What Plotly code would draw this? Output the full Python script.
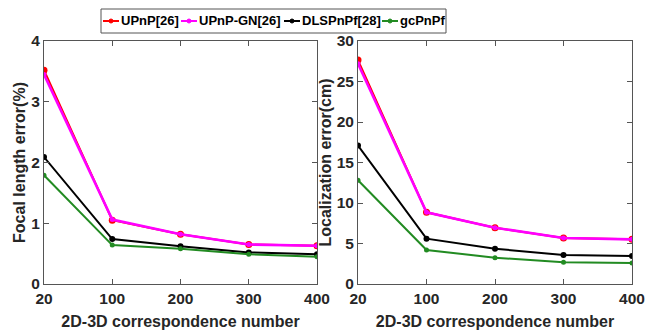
import plotly.graph_objects as go

x_labels = ["20", "100", "200", "300", "400"]
series_names = ["UPnP[26]", "UPnP-GN[26]", "DLSPnPf[28]", "gcPnPf"]

focal_upnp = [3.52, 1.05, 0.82, 0.65, 0.63]
focal_upnp_gn = [3.45, 1.06, 0.82, 0.65, 0.63]
focal_dls = [2.09, 0.74, 0.62, 0.52, 0.49]
focal_gc = [1.79, 0.64, 0.58, 0.49, 0.45]

loc_upnp = [27.65, 8.85, 6.95, 5.68, 5.51]
loc_upnp_gn = [27.2, 8.85, 6.95, 5.68, 5.51]
loc_dls = [17.1, 5.6, 4.36, 3.58, 3.46]
loc_gc = [12.8, 4.2, 3.25, 2.67, 2.6]

colors = ["#ff0000", "#ff00ff", "#000000", "#228b22"]
widths = [2, 2.6, 2, 2]
msizes = [7, 5, 6, 5]

W, H = 646, 332
ML, MR, MT, MB = 44, 14, 41, 48
PW, PH = W - ML - MR, H - MT - MB


def px(x):
    return (x - ML) / PW


def py(y):
    return (H - MB - y) / PH


fig = go.Figure()
left = [focal_upnp, focal_upnp_gn, focal_dls, focal_gc]
right = [loc_upnp, loc_upnp_gn, loc_dls, loc_gc]
for i, name in enumerate(series_names):
    fig.add_trace(go.Scatter(x=x_labels, y=left[i], name=name, mode="lines+markers",
                             line=dict(color=colors[i], width=widths[i]),
                             marker=dict(color=colors[i], size=msizes[i]),
                             xaxis="x", yaxis="y", showlegend=False))
for i, name in enumerate(series_names):
    fig.add_trace(go.Scatter(x=x_labels, y=right[i], name=name, mode="lines+markers",
                             line=dict(color=colors[i], width=widths[i]),
                             marker=dict(color=colors[i], size=msizes[i]),
                             xaxis="x2", yaxis="y2", showlegend=False))

axcol = "#555555"
fam = "Liberation Sans, Arial"
tickfont = dict(family=fam, size=15.5, color="#262626", weight="bold")
titlefont = dict(family=fam, size=16, color="#262626", weight="bold")
common = dict(showline=True, linecolor=axcol, linewidth=1, mirror="ticks", ticks="inside",
              ticklen=5, tickcolor=axcol, showgrid=False, zeroline=False, tickfont=tickfont,
              automargin=False)

# Compact legend (box, line glyphs, dots, labels)
shapes = [dict(type="rect", xref="paper", yref="paper", x0=px(101), x1=px(446), y0=py(33), y1=py(9),
               line=dict(color=axcol, width=1), fillcolor="white", layer="above")]
annotations = []
sym_starts = [103, 181, 284, 382]
ly = 21
for i, name in enumerate(series_names):
    s = sym_starts[i]
    shapes.append(dict(type="line", xref="paper", yref="paper", x0=px(s), x1=px(s + 16),
                       y0=py(ly), y1=py(ly), line=dict(color=colors[i], width=2), layer="above"))
    shapes.append(dict(type="circle", xref="paper", yref="paper", x0=px(s + 6), x1=px(s + 10),
                       y0=py(ly + 2), y1=py(ly - 2), line=dict(color=colors[i], width=1),
                       fillcolor=colors[i], layer="above"))
    annotations.append(dict(text=name, xref="paper", yref="paper", x=px(s + 17), y=py(ly),
                            xanchor="left", yanchor="middle", showarrow=False, borderpad=0,
                            font=dict(family=fam, size=13, color="#000000", weight="bold")))

fig.update_layout(
    width=W, height=H,
    margin=dict(l=ML, r=MR, t=MT, b=MB, autoexpand=False),
    paper_bgcolor="white", plot_bgcolor="white",
    xaxis=dict(domain=[0, px(317)], type="category", range=[0, 4],
               title=dict(text="2D-3D correspondence number", font=titlefont, standoff=10),
               anchor="y", **common),
    yaxis=dict(domain=[0, 1], range=[0, 4], dtick=1,
               title=dict(text="Focal length error(%)", font=titlefont, standoff=1),
               anchor="x", **common),
    xaxis2=dict(domain=[px(358), 1], type="category", range=[0, 4],
                title=dict(text="2D-3D correspondence number", font=titlefont, standoff=10),
                anchor="y2", **common),
    yaxis2=dict(domain=[0, 1], range=[0, 30], dtick=5,
                title=dict(text="Localization error(cm)", font=titlefont, standoff=1),
                anchor="x2", **common),
    showlegend=False,
    shapes=shapes,
    annotations=annotations,
)

fig.write_html("out.html", config={"displayModeBar": False},
               post_script="document.body.style.margin='0px';")
